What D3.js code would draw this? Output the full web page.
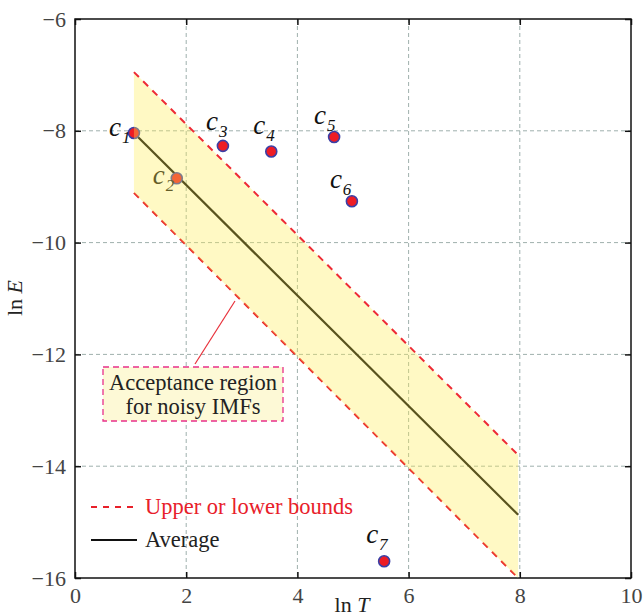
<!DOCTYPE html>
<html>
<head>
<meta charset="utf-8">
<script src="https://cdn.jsdelivr.net/npm/d3@7/dist/d3.min.js"></script>
<style>
  html, body { margin: 0; padding: 0; background: #fff; }
</style>
</head>
<body>
<svg id="chart" width="644" height="616" font-family="Liberation Serif"></svg>
<script>
// Components: ln T vs ln E
const compNames = ["1", "2", "3", "4", "5", "6", "7"];
const lnT = [1.06, 1.83, 2.66, 3.53, 4.66, 4.98, 5.56];
const lnE = [-8.04, -8.85, -8.27, -8.37, -8.11, -9.26, -15.70];

// Acceptance band (endpoints of straight lines)
const bandX = [1.06, 7.97];
const upperBound = [-6.95, -13.80];
const averageLine = [-8.04, -14.87];
const lowerBound = [-9.11, -16.00];

// Axis ticks
const xTicks = [0, 2, 4, 6, 8, 10];
const yTicks = [-6, -8, -10, -12, -14, -16];

const FONT = "Liberation Serif";
const svg = d3.select("#chart");
const pL = 75, pR = 631, pT = 19, pB = 578;

const x = d3.scaleLinear().domain([0, 10]).range([pL, pR]);
const y = d3.scaleLinear().domain([-16, -6]).range([pB, pT]);

// grid
const gridColor = "#9fb0ad";
svg.append("g").selectAll("line").data(xTicks.filter(t => t > 0 && t < 10)).join("line")
  .attr("x1", d => x(d)).attr("x2", d => x(d)).attr("y1", pT).attr("y2", pB)
  .attr("stroke", gridColor).attr("stroke-width", 1).attr("stroke-dasharray", "4,3");
svg.append("g").selectAll("line").data(yTicks.filter(t => t > -16 && t < -6)).join("line")
  .attr("y1", d => y(d)).attr("y2", d => y(d)).attr("x1", pL).attr("x2", pR)
  .attr("stroke", gridColor).attr("stroke-width", 1).attr("stroke-dasharray", "4,3");

// axes (ticks pointing inward, labels outside)
const xAxisB = d3.axisBottom(x).tickValues(xTicks).tickSize(-6).tickPadding(9)
  .tickFormat(d => d3.format("d")(d));
const xAxisT = d3.axisTop(x).tickValues(xTicks).tickSize(-6).tickFormat("");
const yAxisL = d3.axisLeft(y).tickValues(yTicks).tickSize(-6).tickPadding(9)
  .tickFormat(d => "\u2212" + Math.abs(d));
const yAxisR = d3.axisRight(y).tickValues(yTicks).tickSize(-6).tickFormat("");

function styleAxis(g) {
  g.attr("font-family", FONT).attr("font-size", 22);
  g.select(".domain").remove();
  g.selectAll(".tick line").attr("stroke", "#111").attr("stroke-width", 1.5);
  g.selectAll(".tick text").attr("fill", "#444");
}
svg.append("g").attr("transform", `translate(0,${pB})`).call(xAxisB).call(styleAxis);
svg.append("g").attr("transform", `translate(0,${pT})`).call(xAxisT).call(styleAxis);
svg.append("g").attr("transform", `translate(${pL},0)`).call(yAxisL).call(styleAxis);
svg.append("g").attr("transform", `translate(${pR},0)`).call(yAxisR).call(styleAxis);

// frame
svg.append("rect").attr("x", pL).attr("y", pT).attr("width", pR - pL).attr("height", pB - pT)
  .attr("fill", "none").attr("stroke", "#111").attr("stroke-width", 1.5);

const line = d3.line().x(d => x(d[0])).y(d => y(d[1]));
const pts = ys => bandX.map((bx, i) => [bx, ys[i]]);

// lower bound and average sit under the translucent band
svg.append("path").attr("d", line(pts(lowerBound))).attr("fill", "none")
  .attr("stroke", "#e8202a").attr("stroke-width", 2).attr("stroke-dasharray", "7,6");
svg.append("path").attr("d", line(pts(averageLine))).attr("fill", "none")
  .attr("stroke", "#000").attr("stroke-width", 2.2);

// points
const data = compNames.map((n, i) => ({ n, t: lnT[i], e: lnE[i] }));
svg.append("g").selectAll("circle").data(data).join("circle")
  .attr("cx", d => x(d.t)).attr("cy", d => y(d.e)).attr("r", 5.5)
  .attr("fill", "#ee1c25").attr("stroke", "#3b3fa6").attr("stroke-width", 1.6);

// point labels
const labelShift = { "1": [-25, 3], "2": [-24, 6], "3": [-17, -16], "4": [-18, -17],
                     "5": [-20, -13], "6": [-22, -13], "7": [-18, -18] };
const lab = svg.append("g").selectAll("text").data(data).join("text")
  .attr("x", d => x(d.t) + labelShift[d.n][0]).attr("y", d => y(d.e) + labelShift[d.n][1])
  .attr("font-family", FONT).attr("font-size", 27).attr("font-style", "italic").attr("fill", "#111");
lab.append("tspan").text("c");
lab.append("tspan").attr("font-size", 17).attr("dy", 7).attr("dx", 1).text(d => d.n);

// translucent band
const bandPoly = [...pts(upperBound), ...pts(lowerBound).reverse()];
svg.append("path").attr("d", line(bandPoly) + "Z")
  .attr("fill", "#ffee55").attr("fill-opacity", 0.35);

// upper bound on top
svg.append("path").attr("d", line(pts(upperBound))).attr("fill", "none")
  .attr("stroke", "#ee2a35").attr("stroke-width", 2).attr("stroke-dasharray", "7,6");

// annotation
svg.append("line").attr("x1", 195).attr("y1", 364).attr("x2", 235).attr("y2", 301)
  .attr("stroke", "#e8303a").attr("stroke-width", 1.2);
svg.append("rect").attr("x", 103).attr("y", 367).attr("width", 180).attr("height", 54)
  .attr("fill", "#fdf9d6").attr("stroke", "#e8308a").attr("stroke-width", 1.3)
  .attr("stroke-dasharray", "6,4");
svg.append("text").attr("x", 193).attr("y", 390).attr("text-anchor", "middle")
  .attr("font-family", FONT).attr("font-size", 22.5).attr("fill", "#222").text("Acceptance region");
svg.append("text").attr("x", 193).attr("y", 414).attr("text-anchor", "middle")
  .attr("font-family", FONT).attr("font-size", 22.5).attr("fill", "#222").text("for noisy IMFs");

// legend
svg.append("line").attr("x1", 91).attr("x2", 137).attr("y1", 507).attr("y2", 507)
  .attr("stroke", "#e8202a").attr("stroke-width", 2).attr("stroke-dasharray", "6,6");
svg.append("text").attr("x", 145).attr("y", 514).attr("font-family", FONT).attr("font-size", 22.5)
  .attr("fill", "#e8202a").text("Upper or lower bounds");
svg.append("line").attr("x1", 91).attr("x2", 137).attr("y1", 540).attr("y2", 540)
  .attr("stroke", "#111").attr("stroke-width", 2);
svg.append("text").attr("x", 145).attr("y", 547).attr("font-family", FONT).attr("font-size", 22.5)
  .attr("fill", "#222").text("Average");

// axis titles
const xt = svg.append("text").attr("x", 352).attr("y", 612).attr("text-anchor", "middle")
  .attr("font-family", FONT).attr("font-size", 22).attr("fill", "#222");
xt.append("tspan").text("ln ");
xt.append("tspan").attr("font-style", "italic").text("T");
const yt = svg.append("text").attr("transform", "translate(22,298) rotate(-90)")
  .attr("text-anchor", "middle").attr("font-family", FONT).attr("font-size", 22).attr("fill", "#222");
yt.append("tspan").text("ln ");
yt.append("tspan").attr("font-style", "italic").text("E");
</script>
</body>
</html>
